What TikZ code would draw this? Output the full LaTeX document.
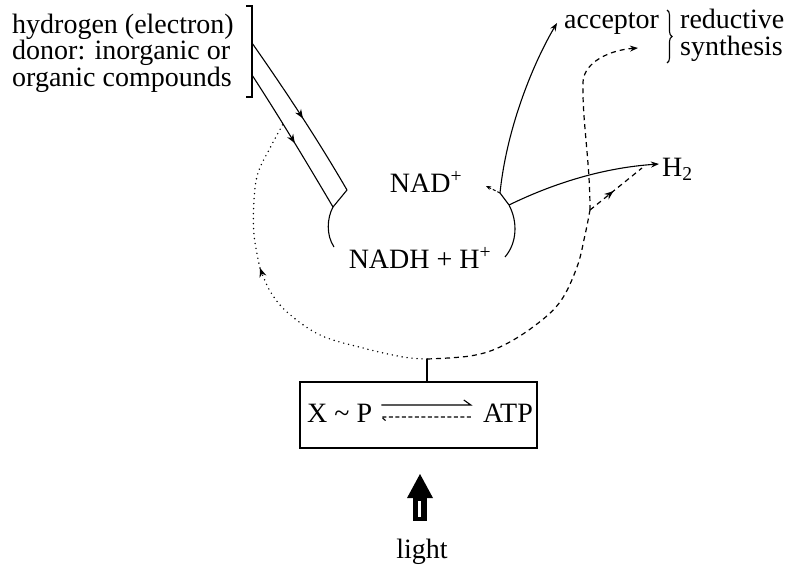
\documentclass[tikz,border=0pt]{standalone}
\usepackage{fontspec}
\setmainfont{Liberation Serif}
\usetikzlibrary{arrows.meta,decorations.markings,decorations.pathreplacing,calc}
\begin{document}
\begin{tikzpicture}[x=1pt,y=-1pt,
  txt/.style={inner sep=0pt, font=\fontsize{28}{30}\selectfont},
  ln/.style={line width=1.1pt},
  tip/.style={-{Stealth[length=8pt,width=6pt]}},
  dsh/.style={line width=1.2pt, dash pattern=on 5pt off 4pt},
  dts/.style={line width=1.6pt, line cap=round, dash pattern=on 0pt off 5pt},
  midarrow/.style={postaction={decorate}, decoration={markings, mark=at position #1 with {\arrow{Stealth[length=9pt,width=7pt]}}}}
]
\useasboundingbox (0,0) rectangle (792,573);

% donor text and bracket
\node[txt, align=left, anchor=north west, font=\fontsize{28}{25}\selectfont] (donor) at (12,13.5)
  {hydrogen (electron)\\donor: inorganic or\\organic compounds};
\draw[ln] (246,6) -- (252,6) -- (252,97) -- (246,97);
\coordinate (dU) at (252,43);
\coordinate (dL) at (252,75);

% NAD carrier
\node[txt, anchor=base] (nad) at (426,192) {NAD\textsuperscript{+}};
\node[txt, anchor=base] (nadh) at (420,268) {NADH + H\textsuperscript{+}};
\coordinate (jU) at (347,190);
\coordinate (jL) at (333,207);
\coordinate (rA) at (500,193);
\coordinate (rB) at (509,205);

\draw[ln, midarrow=0.52] (dU) .. controls (285,90) and (318,140) .. (jU);
\draw[ln] (jU) -- (jL);
\draw[ln, midarrow=0.52] (dL) .. controls (280,118) and (307,163) .. (jL);
\draw[ln] (jL) .. controls (327,218) and (326,235) .. (334,247);
\draw[ln] (rA) -- (rB) .. controls (518,222) and (517,243) .. (505,257);
\draw[ln, dash pattern=on 3pt off 2pt, -{Stealth[length=5pt,width=4pt]}] (rA) -- ++(-14,-7);

% acceptor / reductive synthesis
\node[txt, anchor=base west] (acc) at (564,28) {acceptor};
\node[txt, anchor=base west] (red) at (680,28) {reductive};
\node[txt, anchor=base west] (syn) at (680,55) {synthesis};
\draw[ln] decorate[decoration={brace, amplitude=5pt}] {(667,10) -- (667,63)};
\draw[ln, tip] (rA) .. controls (507,125) and (535,60) .. ($(acc.base west)+(-7,-5)$);

% H2
\node[txt, anchor=base west] (h2) at (662,176) {H\textsubscript{2}};
\draw[ln, tip] (rB) .. controls (550,185) and (600,168) .. ($(h2.base west)+(-3,-12)$);

% ATP box
\node[draw, ln, minimum width=237pt, minimum height=66pt, inner sep=0pt] (box) at (418.5,415) {};
\node[txt, anchor=base west] (xp) at (307,422) {X \textasciitilde{} P};
\node[txt, anchor=base east] (atp) at (533,422) {ATP};
\draw[ln] ($(xp.base east)+(9,-17)$) -- ($(atp.base west)+(-12,-17)$) -- ++(-7,-5);
\draw[ln, dash pattern=on 4pt off 2.5pt] ($(atp.base west)+(-12,-5)$) -- ($(xp.base east)+(9,-5)$) -- ++(6,5);

% loop
\coordinate (J) at (427,359);
\coordinate (B) at (590,210);
\coordinate (rs) at (638,48);
\coordinate (hm) at (642,168);
\coordinate (dj) at (283,124);
\draw[ln] (box.north -| J) -- (J);
\draw[dsh] plot[smooth, tension=0.6] coordinates {(J) (470,356) (500,347) (533,327) (560,302) (577,267) (585,235) (B)};
\draw[dsh, tip] (B) .. controls (590,160) and (582,120) .. (583,82) .. controls (584,62) and (610,50) .. (rs);
\draw[dsh, midarrow=0.45] (B) -- (hm);
\draw[dts, -{Stealth[length=9pt,width=7pt]}] plot[smooth, tension=0.6] coordinates {(J) (403,357) (363,348) (320,335) (287,312) (270,291) (260,268)};
\draw[dts] plot[smooth, tension=0.6] coordinates {(260,268) (254,235) (254,200) (258,173) (270,148) (dj)};

% light
\fill (407,498) -- (433,498) -- (420,474) -- cycle;
\fill (413,497) rectangle (427,521);
\fill[white] (418,501) rectangle (421,517);
\node[txt, anchor=base] (lt) at (422,558) {light};
\end{tikzpicture}
\end{document}
